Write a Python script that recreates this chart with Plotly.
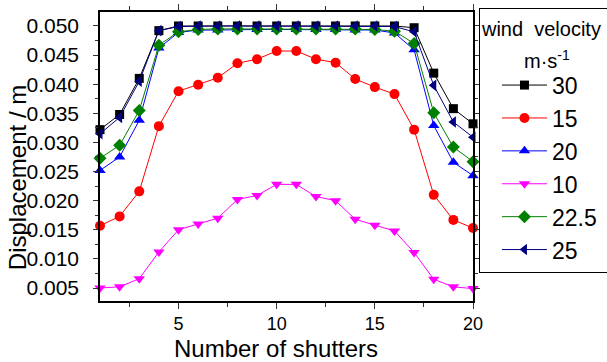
import plotly.graph_objects as go

shutters = list(range(1, 21))

v30 = [0.0322, 0.0348, 0.0410, 0.0492, 0.0500, 0.0500, 0.0500, 0.0500, 0.0500, 0.0500,
       0.0500, 0.0500, 0.0500, 0.0500, 0.0500, 0.0500, 0.0497, 0.0419, 0.0358, 0.0332]
v15 = [0.0157, 0.0173, 0.0216, 0.0328, 0.0388, 0.0399, 0.0411, 0.0436, 0.0443, 0.0457,
       0.0457, 0.0443, 0.0437, 0.0409, 0.0395, 0.0383, 0.0322, 0.0210, 0.0167, 0.0153]
v20 = [0.0252, 0.0275, 0.0338, 0.0462, 0.0489, 0.0493, 0.0493, 0.0494, 0.0494, 0.0494,
       0.0494, 0.0494, 0.0494, 0.0493, 0.0493, 0.0488, 0.0459, 0.0329, 0.0266, 0.0243]
v10 = [0.0050, 0.0052, 0.0066, 0.0112, 0.0150, 0.0160, 0.0170, 0.0202, 0.0209, 0.0228,
       0.0228, 0.0207, 0.0200, 0.0168, 0.0158, 0.0148, 0.0111, 0.0065, 0.0052, 0.0049]
v225 = [0.0273, 0.0295, 0.0355, 0.0467, 0.0490, 0.0494, 0.0495, 0.0495, 0.0495, 0.0495,
        0.0495, 0.0495, 0.0495, 0.0495, 0.0494, 0.0491, 0.0470, 0.0351, 0.0292, 0.0267]
v25 = [0.0315, 0.0343, 0.0405, 0.0492, 0.0499, 0.0500, 0.0500, 0.0500, 0.0500, 0.0500,
       0.0500, 0.0500, 0.0500, 0.0500, 0.0500, 0.0499, 0.0490, 0.0398, 0.0335, 0.0309]

series_names = ["30", "15", "20", "10", "22.5", "25"]
series_values = [v30, v15, v20, v10, v225, v25]
series_colors = ["#000000", "#FF0000", "#0000FF", "#FF00FF", "#008000", "#000080"]
series_symbols = ["square", "circle", "triangle-up", "triangle-down", "diamond", "triangle-left"]
series_sizes = [9, 10, 10, 10, 10, 10]

y_ticks = [0.005, 0.010, 0.015, 0.020, 0.025, 0.030, 0.035, 0.040, 0.045, 0.050]
x_ticks = [5, 10, 15, 20]

FONT = "Liberation Sans, Arial, sans-serif"
NB = "\u00a0"
legend_title = ("<span style='font-size:20px'>wind  velocity" + NB * 2 + "</span><br>"
                "<span style='font-size:20px'>" + NB + "</span>")
unit_text = "m·s<sup>-1</sup>"

fig = go.Figure()
for name, vals, col, sym, sz in zip(series_names, series_values, series_colors, series_symbols, series_sizes):
    fig.add_trace(go.Scatter(
        x=shutters, y=vals, name=name, mode="lines+markers",
        line=dict(color=col, width=1),
        marker=dict(symbol=sym, color=col, size=sz, line=dict(width=0)),
        cliponaxis=False,
    ))

fig.update_layout(
    width=607, height=362,
    margin=dict(l=100, r=134, t=12, b=61, autoexpand=False),
    paper_bgcolor="white", plot_bgcolor="white",
    font=dict(family=FONT, color="black"),
    showlegend=True,
    legend=dict(
        x=1.016, y=1.0138, xanchor="left", yanchor="top",
        bordercolor="black", borderwidth=1, bgcolor="white",
        font=dict(size=23, family=FONT),
        title=dict(text=legend_title, side="top",
                   font=dict(size=21, family=FONT)),
        itemwidth=45,
        indentation=17,
        tracegroupgap=0,
        maxheight=400,
    ),
    xaxis=dict(
        range=[1, 20], tickvals=x_ticks, ticktext=[str(t) for t in x_ticks],
        showgrid=False, zeroline=False,
        showline=True, linecolor="black", linewidth=1.5, mirror="ticks",
        ticks="outside", ticklen=6, tickwidth=1, tickcolor="#333",
        tickfont=dict(size=18),
        minor=dict(tickvals=[2.5, 7.5, 12.5, 17.5], ticks="outside", ticklen=4, tickcolor="#333"),
    ),
    yaxis=dict(
        range=[0.00277, 0.0524], tickvals=y_ticks, ticktext=["%.3f" % t for t in y_ticks],
        showgrid=False, zeroline=False,
        showline=True, linecolor="black", linewidth=1.5, mirror="ticks",
        ticks="outside", ticklen=5, tickwidth=1, tickcolor="#333",
        tickfont=dict(size=21), ticklabelstandoff=10,
        minor=dict(tickvals=[0.0025 + 0.005 * i for i in range(11)], ticks="outside", ticklen=3, tickcolor="#333"),
    ),
    annotations=[
        dict(text="Number of shutters", xref="paper", yref="paper", x=0.472, y=-0.166,
             xanchor="center", yanchor="middle", showarrow=False, font=dict(size=24)),
        dict(text="Displacement / m", xref="paper", yref="paper", x=-0.2225, y=0.425,
             xanchor="center", yanchor="middle", textangle=-90, showarrow=False, font=dict(size=24)),
        dict(text=unit_text, xref="paper", yref="paper", x=1.198, y=0.835,
             xanchor="center", yanchor="middle", showarrow=False, font=dict(size=20)),
    ],
)

fig.write_html("out.html")
